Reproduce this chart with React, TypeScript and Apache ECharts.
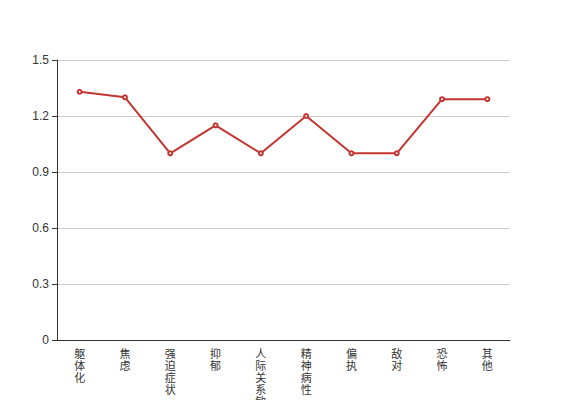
import React, { useEffect, useRef } from "react";
import * as echarts from "echarts";

const categories = ["躯体化", "焦虑", "强迫症状", "抑郁", "人际关系敏感", "精神病性", "偏执", "敌对", "恐怖", "其他"];
const values = [1.33, 1.3, 1.0, 1.15, 1.0, 1.2, 1.0, 1.0, 1.29, 1.29];

export default function App() {
  const ref = useRef<HTMLDivElement>(null);
  useEffect(() => {
    document.body.style.margin = "0";
    const chart = echarts.init(ref.current!, null, { renderer: "svg" });
    chart.setOption({
      animation: false,
      textStyle: { fontFamily: "Helvetica, Arial, 'Liberation Sans', 'Noto Sans CJK SC', sans-serif" },
      grid: { left: 57, right: 57, top: 60, bottom: 60, containLabel: false, outerBoundsMode: "none" },
      xAxis: {
        type: "category",
        data: categories,
        boundaryGap: true,
        axisLine: { lineStyle: { color: "#333" } },
        axisTick: { lineStyle: { color: "#333" } },
        axisLabel: {
          color: "#333",
          fontSize: 11,
          lineHeight: 12,
          interval: 0,
          formatter: (v: string) => v.split("").join("\n"),
        },
      },
      yAxis: {
        type: "value",
        min: 0,
        max: 1.5,
        interval: 0.3,
        axisLine: { show: true, lineStyle: { color: "#333" } },
        axisTick: { show: true, lineStyle: { color: "#333" } },
        axisLabel: { color: "#333", fontSize: 12 },
        splitLine: { lineStyle: { color: "#ccc" } },
      },
      series: [
        {
          type: "line",
          data: values,
          symbol: "emptyCircle",
          symbolSize: 4,
          itemStyle: { color: "#c23531" },
          lineStyle: { color: "#c23531", width: 2 },
        },
      ],
    });
    return () => chart.dispose();
  }, []);
  return <div ref={ref} style={{ width: 567, height: 400 }} />;
}
